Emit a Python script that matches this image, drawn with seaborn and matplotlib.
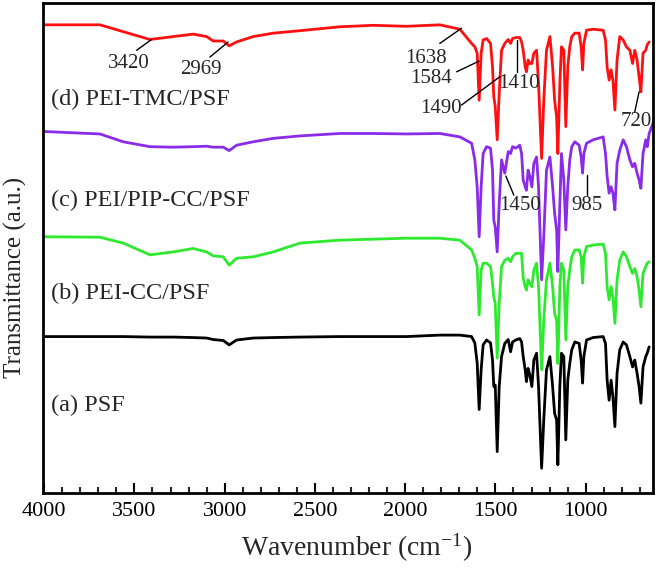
import numpy as np
import pandas as pd
import seaborn as sns
import matplotlib.pyplot as plt
from matplotlib.ticker import MultipleLocator

# ---------------- data ----------------
wavenumber = [4000, 3691, 3562, 3414, 3285, 3175, 3100, 3064, 3008, 2975, 2934, 2842, 2731, 2583,
              2362, 2179, 1992,
              1808, 1697, 1632, 1614, 1601, 1590, 1579, 1568, 1549, 1527,
              1516, 1509, 1501, 1490, 1479, 1466, 1448, 1429, 1416, 1405,
              1387, 1365, 1355, 1346, 1335, 1328, 1319, 1309, 1298, 1287,
              1272, 1261, 1244, 1232, 1217, 1198, 1183, 1172, 1161, 1154,
              1143, 1134, 1121, 1110, 1099, 1088, 1077, 1060, 1036, 1025,
              1017, 1010, 995, 959, 903, 890, 881, 870, 859, 849,
              838, 826, 811, 792, 774, 755, 740, 728, 715, 704,
              694, 682, 667, 659, 648]

psf = [31.9, 31.9, 31.9, 31.8, 31.8, 31.7, 31.6, 31.3, 31.1, 30.2, 31.2, 31.6, 31.7, 31.8,
       31.9, 31.9, 31.9,
       32.2, 32.2, 31.9, 30.6, 26.5, 17.0, 25.1, 30.2, 31.2, 30.6,
       27.1, 21.7, 22.0, 8.4, 21.7, 27.8, 30.5, 31.3, 28.8, 30.8,
       31.2, 31.5, 30.8, 27.8, 25.1, 22.7, 25.4, 24.0, 21.7, 27.1,
       28.5, 21.7, 5.0, 14.9, 25.1, 27.8, 21.7, 16.2, 14.9, 5.7,
       21.7, 28.5, 27.8, 10.8, 23.0, 26.4, 29.2, 30.8, 30.5, 27.1,
       22.4, 27.8, 31.2, 31.7, 31.9, 30.5, 23.0, 18.9, 23.0, 19.6,
       13.5, 24.4, 29.2, 30.8, 30.2, 27.8, 25.7, 27.1, 24.4, 21.7,
       18.3, 25.7, 27.8, 28.5, 29.8]

pei_cc = [52.3, 52.2, 51.0, 48.6, 49.2, 49.9, 49.2, 48.4, 48.2, 46.5, 47.9, 48.2, 49.2, 51.0,
          51.6, 51.8, 52.0,
          52.0, 51.6, 49.6, 47.9, 46.2, 36.3, 45.5, 46.9, 46.9, 46.2,
          42.8, 40.0, 38.7, 27.5, 38.7, 46.2, 47.5, 47.9, 47.2, 48.2,
          48.9, 48.9, 48.9, 43.8, 42.1, 41.4, 43.5, 42.8, 42.1, 45.5,
          46.9, 42.1, 25.1, 35.3, 43.5, 46.9, 42.1, 36.6, 35.3, 26.4,
          42.1, 46.9, 45.5, 31.2, 42.1, 45.5, 48.2, 49.6, 49.6, 48.2,
          42.8, 48.2, 50.3, 50.6, 50.8, 48.9, 42.1, 39.4, 42.1, 40.0,
          34.6, 43.5, 47.5, 49.2, 48.2, 46.2, 44.8, 45.8, 44.1, 41.4,
          38.0, 44.8, 46.2, 46.9, 47.2]

wavenumber_c = wavenumber + [625]
pei_pip = [73.8, 73.3, 71.7, 70.7, 70.6, 70.7, 70.8, 70.6, 70.6, 69.9, 71.0, 71.7, 72.4, 72.9,
           73.4, 73.4, 73.3,
           73.4, 72.7, 71.4, 68.0, 62.5, 52.3, 62.5, 69.3, 70.7, 70.4,
           65.9, 55.7, 54.3, 49.2, 59.1, 68.0, 65.3, 69.7, 69.3, 70.7,
           70.4, 71.0, 69.3, 63.9, 62.5, 61.8, 65.9, 64.6, 62.5, 67.3,
           68.6, 62.5, 43.5, 52.3, 65.9, 68.6, 62.5, 57.1, 53.7, 45.2,
           59.1, 69.3, 63.9, 53.7, 62.5, 68.0, 70.7, 71.7, 71.0, 68.6,
           65.3, 69.3, 71.4, 72.1, 72.7, 69.3, 64.6, 61.2, 62.5, 61.2,
           57.8, 67.3, 70.0, 72.1, 70.7, 68.0, 66.6, 67.3, 65.3, 63.9,
           62.2, 69.3, 72.1, 70.7, 73.4, 75.7]

pei_tmc = [95.6, 95.6, 94.2, 92.6, 93.2, 93.7, 93.2, 92.3, 92.3, 91.3, 92.1, 93.2, 93.9, 94.4,
           95.2, 95.5, 95.3,
           95.6, 94.7, 91.8, 91.1, 89.8, 80.2, 89.8, 92.5, 92.8, 91.8,
           87.0, 80.9, 78.9, 72.1, 81.6, 90.4, 91.8, 92.6, 91.8, 92.8,
           93.0, 93.0, 92.1, 90.4, 87.0, 86.0, 88.4, 87.7, 87.7, 89.8,
           90.4, 83.6, 68.3, 80.2, 90.4, 93.2, 87.0, 80.2, 76.8, 69.3,
           83.6, 91.1, 90.4, 74.8, 87.0, 91.1, 93.2, 93.9, 93.9, 91.1,
           86.4, 91.8, 94.5, 94.7, 94.5, 92.5, 87.0, 84.3, 86.4, 84.3,
           78.2, 88.4, 93.2, 92.5, 91.1, 90.4, 87.7, 90.4, 88.4, 85.0,
           81.9, 89.8, 90.4, 91.5, 92.1]

series_labels = ["(a) PSF", "(b) PEI-CC/PSF", "(c) PEI/PIP-CC/PSF", "(d) PEI-TMC/PSF"]
label_y = [17.9, 40.7, 59.8, 80.3]

peak_labels = ["3420", "2969", "1638", "1584", "1490", "1410", "720", "1450", "985"]
peak_text_x = [3531, 3132, 1885, 1854, 1802, 1370, 718, 1365, 993]
peak_text_y = [87.7, 86.4, 88.7, 84.7, 78.5, 83.6, 75.8, 58.6, 58.6]
lead_x1 = [3488, 3082, 1808, 1715, 1688, 1380, 728, 1398, 990]
lead_y1 = [90.4, 89.0, 91.8, 86.0, 79.2, 86.0, 77.8, 60.8, 60.8]
lead_x2 = [3405, 2981, 1688, 1590, 1475, 1380, 704, 1442, 990]
lead_y2 = [92.6, 92.1, 94.9, 88.2, 85.0, 92.5, 81.9, 64.7, 64.9]

x_ticks = [4000, 3500, 3000, 2500, 2000, 1500, 1000]

# ---------------- plotting ----------------
sns.set_style("white")
plt.rcParams['font.family'] = ['Liberation Serif', 'DejaVu Serif']
plt.rcParams['mathtext.fontset'] = 'custom'
plt.rcParams['mathtext.rm'] = 'Liberation Serif'
plt.rcParams['mathtext.it'] = 'Liberation Serif:italic'

fig = plt.figure(figsize=(6.61, 5.77), dpi=100)
ax = fig.add_axes([0.0655, 0.1461, 0.9229, 0.8482])

curves = [
    (wavenumber, psf, "#000000"),
    (wavenumber, pei_cc, "#2EEA2E"),
    (wavenumber_c, pei_pip, "#8A2BE8"),
    (wavenumber, pei_tmc, "#FF1010"),
]
for xs, ys, col in curves:
    df = pd.DataFrame({"wn": xs, "T": ys})
    sns.lineplot(data=df, x="wn", y="T", color=col, lw=2.0, ax=ax,
                 estimator=None, sort=False)

ax.set_xlim(4005, 625)
ax.set_ylim(0, 100)
ax.xaxis.set_major_locator(MultipleLocator(500))
ax.xaxis.set_minor_locator(MultipleLocator(100))
ax.set_xticks(x_ticks)
ax.set_xticklabels([str(t) for t in x_ticks])
ax.set_yticks([])
ax.tick_params(axis='x', which='major', direction='in', length=7, width=1.5,
               labelsize=16, pad=7, top=False, bottom=True, colors='black')
ax.tick_params(axis='x', which='minor', direction='in', length=4, width=1.5,
               top=False, bottom=True)
for sp in ax.spines.values():
    sp.set_linewidth(2.0)
    sp.set_color('black')

ax.set_xlabel("Wavenumber (cm$^{-1}$)", fontsize=20)
ax.set_ylabel("Transmittance (a.u.)", fontsize=18)
ax.xaxis.set_label_coords(0.514, -0.08)
ax.yaxis.set_label_coords(-0.027, 0.44)

for lab, ly in zip(series_labels, label_y):
    ax.text(3960, ly, lab, fontsize=17.5, ha='left', va='center')

for lab, tx, ty, x1, y1, x2, y2 in zip(peak_labels, peak_text_x, peak_text_y,
                                       lead_x1, lead_y1, lead_x2, lead_y2):
    ax.text(tx, ty, lab, fontsize=15, ha='center', va='center')
    ax.plot([x1, x2], [y1, y2], color='black', lw=1.0)

fig.savefig("out.png", dpi=100)
